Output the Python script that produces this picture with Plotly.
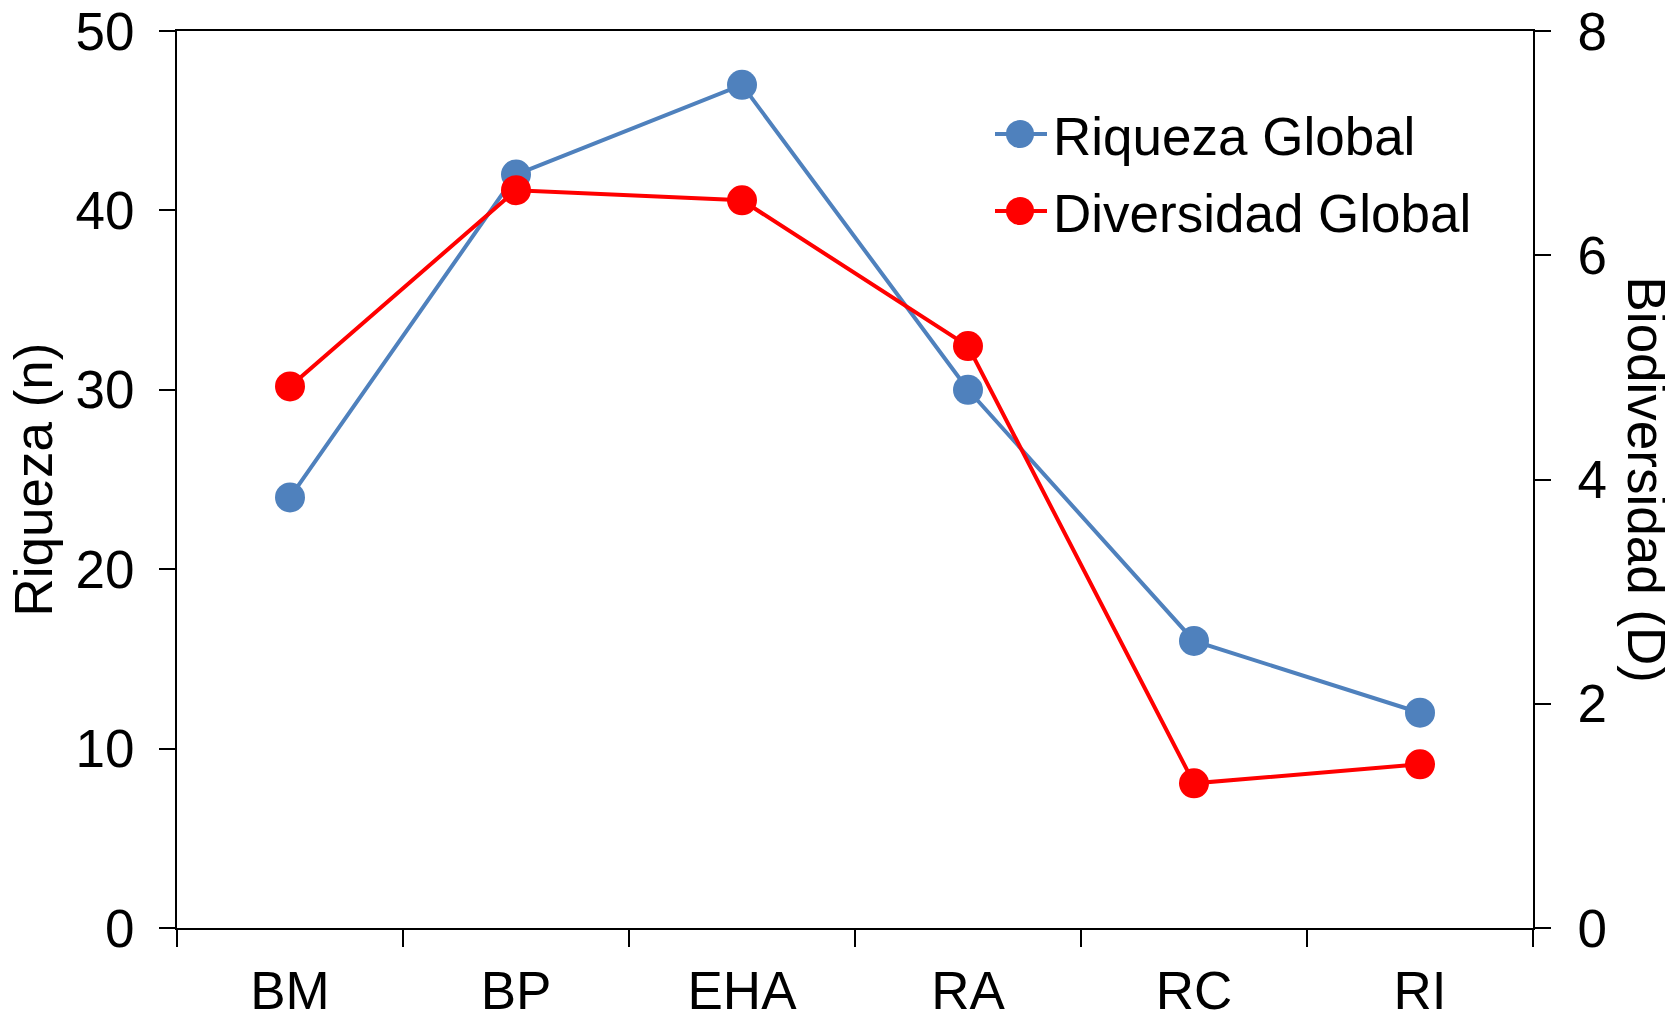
import plotly.graph_objects as go

categories = ["BM", "BP", "EHA", "RA", "RC", "RI"]
riqueza = [24, 42, 47, 30, 16, 12]
diversidad = [4.83, 6.58, 6.49, 5.19, 1.29, 1.46]
series_names = ["Riqueza Global", "Diversidad Global"]

FONT = "Arial, Liberation Sans, sans-serif"
BLUE = "#4F81BD"
RED = "#FF0000"
FS = 53

# page offset (html body margin)
OFF = 8
PAGE_W, PAGE_H = 1673, 1015
W, H = PAGE_W - OFF, PAGE_H - OFF
# desired plot-area edges in page pixels
PL, PR, PT, PB = 177, 1533, 31, 928
ml, mt = PL - OFF, PT - OFF
mr, mb = PAGE_W - PR, PAGE_H - PB


def px(xp):
    return (xp - PL) / (PR - PL)


def py(yp):
    return (PB - yp) / (PB - PT)


fig = go.Figure()
fig.add_trace(go.Scatter(
    x=categories, y=riqueza, name=series_names[0], mode="lines+markers",
    line=dict(color=BLUE, width=4), marker=dict(color=BLUE, size=30),
    yaxis="y", showlegend=False))
fig.add_trace(go.Scatter(
    x=categories, y=diversidad, name=series_names[1], mode="lines+markers",
    line=dict(color=RED, width=4), marker=dict(color=RED, size=30),
    yaxis="y2", showlegend=False))

# manual legend (to keep legend markers as large as in the reference)
shapes = []
annotations = []
for name, color, row_y in zip(series_names, [BLUE, RED], [134, 211]):
    shapes.append(dict(type="line", xref="paper", yref="paper",
                       x0=px(995), x1=px(1047), y0=py(row_y), y1=py(row_y),
                       line=dict(color=color, width=4)))
    r = 14
    shapes.append(dict(type="circle", xref="paper", yref="paper",
                       x0=px(1020 - r), x1=px(1020 + r),
                       y0=py(row_y + r), y1=py(row_y - r),
                       fillcolor=color, line=dict(color=color, width=0)))
    annotations.append(dict(text=name, x=px(1051), y=py(row_y + 2),
                            xref="paper", yref="paper", showarrow=False,
                            xanchor="left", yanchor="middle",
                            font=dict(size=FS, family=FONT, color="black")))

annotations.append(dict(text="Riqueza (n)", x=0, y=0.5, xref="paper",
                        yref="paper", showarrow=False, textangle=-90,
                        font=dict(size=FS), xanchor="center",
                        yanchor="middle", xshift=33 - PL))
annotations.append(dict(text="Biodiversidad (D)", x=1, y=0.5, xref="paper",
                        yref="paper", showarrow=False, textangle=90,
                        font=dict(size=FS), xanchor="center",
                        yanchor="middle", xshift=1646 - PR))

fig.update_layout(
    width=W, height=H,
    margin=dict(l=ml, r=mr, t=mt, b=mb, autoexpand=False),
    paper_bgcolor="white", plot_bgcolor="white",
    font=dict(family=FONT, size=FS, color="black"),
    showlegend=False,
    xaxis=dict(type="category", range=[-0.5, 5.5], tickson="boundaries",
               ticks="outside", ticklen=17, tickwidth=2, tickcolor="black",
               showline=True, linecolor="black", linewidth=2, mirror=True,
               showgrid=False, zeroline=False, tickfont=dict(size=FS),
               ticklabelstandoff=15, ticklabeloverflow="allow"),
    yaxis=dict(range=[0, 50], dtick=10, ticks="outside", ticklen=16,
               tickwidth=2, tickcolor="black", showline=True,
               linecolor="black", linewidth=2, showgrid=False,
               zeroline=False, tickfont=dict(size=FS), ticklabelstandoff=14,
               ticklabeloverflow="allow"),
    yaxis2=dict(range=[0, 8], dtick=2, overlaying="y", side="right",
                ticks="outside", ticklen=16, tickwidth=2, tickcolor="black",
                showline=True, linecolor="black", linewidth=2,
                showgrid=False, zeroline=False, tickfont=dict(size=FS),
                ticklabelstandoff=16, ticklabeloverflow="allow"),
    shapes=shapes,
    annotations=annotations,
)

fig.write_html("out.html")
